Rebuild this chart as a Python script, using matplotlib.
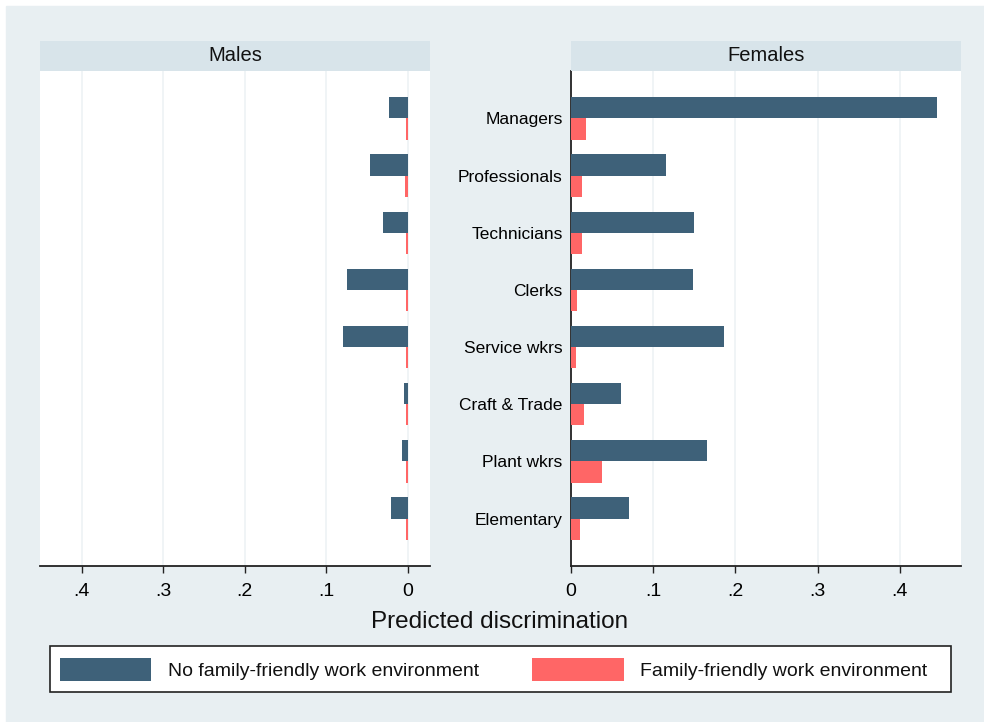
import matplotlib
matplotlib.use("Agg")
import matplotlib.pyplot as plt
from matplotlib.patches import Rectangle, Patch
import numpy as np

plt.rcParams['font.family'] = ['Liberation Sans', 'DejaVu Sans']

categories = ["Managers", "Professionals", "Technicians", "Clerks",
              "Service wkrs", "Craft & Trade", "Plant wkrs", "Elementary"]

males_no_ff = [0.023, 0.046, 0.030, 0.074, 0.079, 0.004, 0.0066, 0.020]
males_ff = [0.0018, 0.003, 0.0018, 0.002, 0.0018, 0.0016, 0.0016, 0.002]
females_no_ff = [0.445, 0.116, 0.150, 0.149, 0.186, 0.061, 0.166, 0.071]
females_ff = [0.0187, 0.0138, 0.0138, 0.0075, 0.0058, 0.0155, 0.038, 0.011]

tick_vals = [0, 0.1, 0.2, 0.3, 0.4]
tick_labels = ["0", ".1", ".2", ".3", ".4"]

DARK = "#3e6179"
RED = "#ff6666"
BG = "#e8eff2"
HEAD = "#d8e4ea"
GRID = "#edf2f5"

W, H = 984, 722
fig = plt.figure(figsize=(W / 100, H / 100), dpi=100, facecolor="white")
fig.patches.append(Rectangle((6 / W, 0), 1 - 6 / W, 1 - 6 / H,
                             transform=fig.transFigure, color=BG, zorder=-10))


def px_axes(x0, y0, x1, y1):
    # pixel box (top-left origin) -> figure axes
    return fig.add_axes([x0 / W, 1 - y1 / H, (x1 - x0) / W, (y1 - y0) / H])


y = np.arange(len(categories))
bh = 0.37


def draw_panel(ax, no_ff, ff, xlim):
    ax.barh(y - bh / 2, no_ff, height=bh, color=DARK, zorder=3)
    ax.barh(y + bh / 2, ff, height=bh, color=RED, zorder=3)
    ax.set_xlim(*xlim)
    ax.set_ylim(7.83, -0.83)
    ax.set_xticks(tick_vals)
    ax.set_xticklabels(tick_labels, fontsize=14)
    ax.tick_params(axis="x", length=5, width=1, color="#222222", pad=7)
    for v in tick_vals:
        ax.axvline(v, color=GRID, lw=1.2, zorder=1)
    ax.set_facecolor("white")
    for s in ["top", "right", "left"]:
        ax.spines[s].set_visible(False)
    ax.spines["bottom"].set_color("#222222")
    ax.spines["bottom"].set_linewidth(1.3)


def header(x0, x1, text):
    hax = px_axes(x0, 40.5, x1, 71)
    hax.set_facecolor(HEAD)
    hax.set_xticks([])
    hax.set_yticks([])
    for s in hax.spines.values():
        s.set_visible(False)
    hax.text(0.5, 0.5, text, ha="center", va="center", fontsize=14.5,
             color="#111111", transform=hax.transAxes)


ax_m = px_axes(40, 71, 430, 566)
draw_panel(ax_m, males_no_ff, males_ff, (0.451, -0.0275))
ax_m.set_yticks([])
header(40, 430, "Males")

ax_f = px_axes(571, 71, 961, 566)
draw_panel(ax_f, females_no_ff, females_ff, (0, 0.4745))
ax_f.set_yticks(y)
ax_f.set_yticklabels(categories, fontsize=12.5)
ax_f.tick_params(axis="y", length=0, pad=6)
ax_f.spines["left"].set_visible(True)
ax_f.spines["left"].set_color("#222222")
ax_f.spines["left"].set_linewidth(1.3)
header(571, 961, "Females")

fig.text(500 / W, 1 - 622 / H, "Predicted discrimination", ha="center",
         va="center", fontsize=17.5, color="#111111")

# legend box drawn by hand, entries placed with legend
fig.patches.append(Rectangle((50 / W, 1 - 692 / H), 901 / W, 46 / H,
                             transform=fig.transFigure, facecolor="white",
                             edgecolor="#222222", lw=1.2, zorder=1))
handles = [Patch(facecolor=DARK, label="No family-friendly work environment"),
           Patch(facecolor=RED, label="Family-friendly work environment")]
leg = fig.legend(handles=handles, loc="center left",
                 bbox_to_anchor=(56 / W, 1 - 669.5 / H),
                 ncol=2, fontsize=14, frameon=False,
                 handlelength=4.7, handleheight=1.45,
                 handletextpad=0.85, columnspacing=2.75, borderaxespad=0,
                 borderpad=0.2)
for t in leg.get_texts():
    t.set_color("#111111")

fig.savefig("out.png", dpi=100, facecolor=fig.get_facecolor())
